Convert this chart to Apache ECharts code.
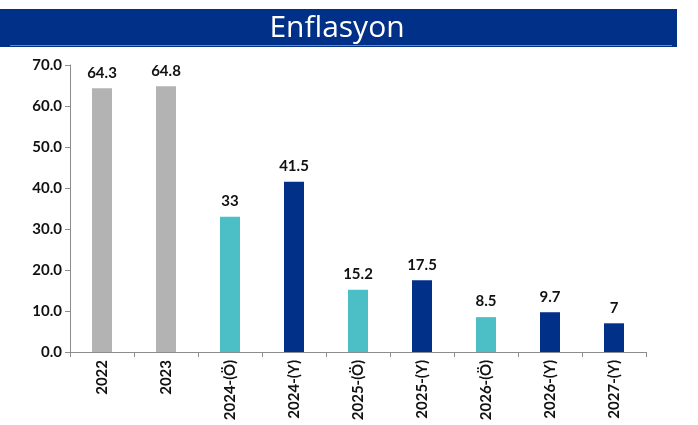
<!DOCTYPE html>
<html><head><meta charset="utf-8">
<script src="https://cdn.jsdelivr.net/npm/echarts@6/dist/echarts.min.js"></script>
<style>html,body{margin:0;padding:0;background:#fff}#c{width:698px;height:425px}</style>
</head><body><div id="c"></div>
<script>
const categories = ['2022','2023','2024-(Ö)','2024-(Y)','2025-(Ö)','2025-(Y)','2026-(Ö)','2026-(Y)','2027-(Y)'];
const values = [64.3, 64.8, 33, 41.5, 15.2, 17.5, 8.5, 9.7, 7];
const valueLabels = ['64.3','64.8','33','41.5','15.2','17.5','8.5','9.7','7'];
const barKinds = ['actual','actual','forecast','target','forecast','target','forecast','target','target'];
const yTicks = [0,10,20,30,40,50,60,70];
const kindColors = {actual:'#b3b3b3', forecast:'#4bbec6', target:'#003087'};

const chart = echarts.init(document.getElementById('c'));
chart.setOption({
  animation:false,
  graphic:[
    {type:'rect', shape:{x:0,y:9,width:677,height:38}, style:{fill:'#003087'}},
    {type:'rect', shape:{x:10,y:45,width:662,height:1}, style:{fill:'#6f86bd'}},
    {type:'text', x:337, y:28, style:{text:'Enflasyon', fill:'#fff', font:'normal 30px "Open Sans", sans-serif', textAlign:'center', textVerticalAlign:'middle'}}
  ],
  grid:{left:70, right:52, top:65, bottom:73},
  xAxis:{type:'category', data:categories,
    axisLine:{lineStyle:{color:'#8c8c8c'}},
    axisTick:{show:true, length:5, lineStyle:{color:'#8c8c8c'}},
    axisLabel:{rotate:90, color:'#111', fontWeight:'bold', fontSize:15, fontFamily:'Lato, sans-serif', margin:8}
  },
  yAxis:{type:'value', min:0, max:70, interval:10,
    axisLine:{show:true, lineStyle:{color:'#8c8c8c'}},
    axisTick:{show:true, length:5, lineStyle:{color:'#8c8c8c'}},
    splitLine:{show:false},
    axisLabel:{color:'#111', fontWeight:'bold', fontSize:15, fontFamily:'Lato, sans-serif', margin:8,
      formatter:v=> yTicks.includes(v) ? v.toFixed(1) : ''}
  },
  series:[{type:'bar', barWidth:20,
    data: values.map((v,i)=>({value:v, itemStyle:{color:kindColors[barKinds[i]]}})),
    label:{show:true, position:'top', distance:8, color:'#111', fontWeight:'bold', fontSize:15, fontFamily:'Lato, sans-serif',
      formatter:p=>valueLabels[p.dataIndex]}
  }]
});
</script></body></html>
